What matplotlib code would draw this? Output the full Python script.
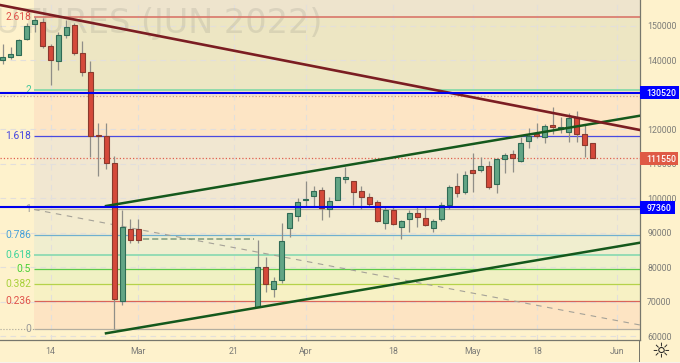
import matplotlib
matplotlib.use("Agg")
import matplotlib.pyplot as plt
from matplotlib.patches import Rectangle

plt.rcParams["font.family"] = ["Roboto", "DejaVu Sans"]

# candles, x is the trading day number
days = [0, 1, 2, 3, 4, 5, 6, 7, 8, 9, 10, 11, 12, 13, 14, 15, 16, 17,
        32, 33, 34, 35, 36, 37, 38, 39, 40, 41, 42, 43, 44, 45, 46, 47, 48, 49, 50, 51, 52, 53,
        54, 55, 56, 57, 58, 59, 60, 61, 62, 63, 64, 65, 66, 67, 68, 69, 70, 71, 72, 73, 74]
opens = [139963, 140833, 141587, 146053, 150403, 151157, 144023, 139760, 147387, 150113, 142000, 136483, 118387, 117923, 110093, 70247, 90953, 90953,
         68507, 79933, 73727, 76250, 91243, 94810, 99363, 100697, 102437, 96753, 99537, 105540, 104960, 101973, 100320, 98957, 92693, 96550, 91707, 93853, 95767, 94143,
         91417, 93853, 98087, 103423, 101683, 108063, 108150, 109310, 104177, 111427, 112790, 110673, 116647, 118503, 117633, 121200, 120000, 119257, 123433, 118590, 115893]
highs = [144690, 143820, 146053, 150693, 152607, 152230, 144603, 148083, 151650, 150693, 145560, 139847, 121693, 121867, 112210, 96550, 93940, 93940,
         87850, 82833, 77207, 92693, 95680, 99943, 105047, 103510, 103307, 100407, 106207, 109107, 105047, 103510, 101567, 99450, 97507, 97797, 93650, 96550, 97333, 97333,
         93853, 98783, 103800, 107367, 107860, 113167, 111833, 110847, 111630, 113080, 113950, 117807, 120330, 121693, 121490, 126333, 123660, 124593, 125347, 121200, 115893]
lows = [138890, 140427, 141500, 145850, 148257, 143443, 132800, 137150, 146517, 141500, 135410, 111833, 106497, 108527, 62040, 69087, 86893, 86893,
        68333, 72857, 71407, 75293, 88807, 93360, 97710, 97507, 93563, 94433, 99450, 104293, 98000, 96753, 97710, 93070, 91040, 92200, 88053, 90257, 91707, 91910,
        90083, 93447, 96753, 100407, 101190, 101857, 107657, 102553, 101567, 107193, 107657, 110470, 114443, 117343, 116067, 118590, 118880, 116183, 116357, 111833, 111550]
closes = [141007, 141790, 145850, 149997, 151650, 144197, 140050, 147213, 149533, 142167, 136570, 118010, 118010, 110267, 70653, 91620, 87850, 87850,
          79933, 75003, 75873, 87473, 95593, 98783, 99653, 101973, 97043, 99160, 106120, 106120, 101683, 100233, 98377, 93360, 96550, 92490, 93273, 95593, 94520, 92200,
          93447, 98000, 103307, 101393, 106613, 107367, 109397, 103307, 111340, 112587, 111543, 116067, 117923, 118097, 120910, 120707, 120500, 123230, 118590, 115313, 111550]

# fib levels
fib_names = ["2.618", "2", "1.618", "1", "0.786", "0.618", "0.5", "0.382", "0.236", "0"]
fib_prices = [152521, 131362, 118028, 96724, 89332, 83535, 79478, 75129, 70201, 62085]
fib_colors = ["#d9766a", "#7fd8a8", "#4a4ae0", "#b3aea0", "#6fb0cf", "#86d8b0", "#5cc94a", "#b5d24a", "#d9645a", "#b3aea0"]
fib_text_colors = ["#e0524a", "#45c79a", "#4545e0", "#9a9a9a", "#45a0d8", "#40d49c", "#48d035", "#a8d03a", "#e0524a", "#9a9a9a"]
zone_colors = ["#eee4cd", "#ede6c3", "#fde5c5", "#f1e7d1", "#f3ebcf", "#f0eecf", "#eff0cc", "#f0f1c3", "#f7f1c4", "#fde4c3"]

y_ticks = [60000, 70000, 80000, 90000, 100000, 110000, 120000, 130000, 140000, 150000]
date_pos = [6, 17, 29, 38, 49, 59, 67, 77.1]
date_names = ["14", "Mar", "21", "Apr", "18", "May", "18", "Jun"]

# drawn lines: x days, y prices
maroon_x = [-0.34, 79.96]
maroon_y = [156000, 119767]
up_x = [12.96, 79.96]
up_y = [97737, 123912]
low_x = [12.96, 79.96]
low_y = [60840, 87100]
diag_x = [3.93, 79.96]
diag_y = [96724, 63245]
flat_x = [17.6, 31.5]
flat_y = [88030, 88030]

blue_lines = [130520, 97360]
last_price = 111550
old_price = 129700

BG = "#fef2cc"
W, H = 680, 363
px = 0.72  # pt per pixel at dpi 100
AX_W = 639.7

fig = plt.figure(figsize=(W / 100, H / 100), dpi=100, facecolor=BG)
ax = fig.add_axes([0, (H - 340) / H, AX_W / W, 340 / H], facecolor=BG)
ax.set_xlim(-0.339, 79.92)
ax.set_ylim(58897, 157449)
price_per_px = (157449 - 58897) / 340

# zones behind everything
zone_top = 157449
for p, c in zip(fib_prices, zone_colors):
    ax.fill_between([3.93, 79.92], p, zone_top, color=c, lw=0, zorder=0)
    zone_top = p

ax.text(322 / AX_W, 1 - 24 / 340, "FUTURES (JUN 2022)", transform=ax.transAxes, ha="right", va="center",
        fontsize=33.5 * px, color="#8a8a80", alpha=0.2, zorder=1, family="DejaVu Sans")

ax.set_yticks(y_ticks)
ax.set_xticks(date_pos)
ax.set_xticklabels(date_names)
ax.grid(True, color="#e2dfdc", lw=0.8, ls=(0, (5, 4)), zorder=1)
ax.set_axisbelow(True)
ax.yaxis.tick_right()
ax.tick_params(axis="y", length=0, pad=7.5 * px, labelsize=8.8 * px, labelcolor="#7c7c78")
ax.tick_params(axis="x", length=0, pad=7.5 * px, labelsize=8.8 * px, labelcolor="#7c7c78")
for s in ["top", "left"]:
    ax.spines[s].set_visible(False)
ax.spines["bottom"].set_color("#77776c")
ax.spines["right"].set_color("#77776c")
ax.spines["bottom"].set_linewidth(0.9)
ax.spines["right"].set_linewidth(0.9)

# fib lines and labels
for name, p, c, tc in zip(fib_names, fib_prices, fib_colors, fib_text_colors):
    lw = 1.2 if name in ["2.618", "2", "0.618"] else 0.9
    ax.plot([3.93, 79.92], [p, p], color=c, lw=lw, zorder=2, solid_capstyle="butt")
    ax.text(31 / AX_W, p, name, transform=ax.get_yaxis_transform(), ha="right", va="center",
            fontsize=10.2 * px, color=tc, zorder=2)

ax.plot([-0.339, 3.93], [fib_prices[-1], fib_prices[-1]], color="#a8a598", lw=0.8, ls=":", zorder=2)
ax.plot(diag_x, diag_y, color="#a5a298", lw=0.8, ls=(0, (5, 5)), zorder=2)
ax.plot(flat_x, flat_y, color="#7f9c7f", lw=1.1, ls=(0, (4, 2)), zorder=2)
ax.axhline(old_price, color="#c9a58c", lw=0.9, ls=":", zorder=2)
ax.axhline(last_price, color="#e0604e", lw=0.9, ls=":", zorder=2)

# candles
for d, o, h, l, c in zip(days, opens, highs, lows, closes):
    ax.plot([d, d], [l, h], color="#8f8e88", lw=0.9, zorder=3, solid_capstyle="butt")
    up = c >= o
    ax.bar(d, abs(c - o), bottom=min(o, c), width=0.62,
           color="#62a585" if up else "#d5493a",
           edgecolor="#2f6b55" if up else "#8a3a2e", linewidth=0.8, zorder=4)

# drawing tools on top
ax.plot(up_x, up_y, color="#14581c", lw=1.8, zorder=5)
ax.plot(low_x, low_y, color="#14581c", lw=1.8, zorder=5)
ax.plot(maroon_x, maroon_y, color="#7b1d22", lw=1.9, zorder=5)
for p in blue_lines:
    ax.axhline(p, color="#0000ee", lw=1.5, zorder=6)

# price boxes, they sit over the tick labels
for p, c, w in [(blue_lines[0], "#0000ff", 39), (blue_lines[1], "#0000ff", 35), (last_price, "#df5a45", 38)]:
    ax.add_patch(Rectangle((1, p - 6.5 * price_per_px), w / AX_W, 13 * price_per_px, transform=ax.get_yaxis_transform(),
                           fc=c, ec="none", clip_on=False, zorder=7))
    ax.text((AX_W + 7) / AX_W, p, str(p), transform=ax.get_yaxis_transform(), ha="left", va="center_baseline",
            fontsize=8.8 * px, color="white", fontweight="medium", zorder=8)

# right axis line goes on to the bottom, sun icon and edge strip
fig.add_artist(Rectangle((639.2 / W, 1.5 / H), 0.9 / W, 22 / H, transform=fig.transFigure, color="#77776c", lw=0))
fig.add_artist(Rectangle((0, 0), 1, 1.5 / H, transform=fig.transFigure, color="#f6f3ec", lw=0))
fig.text(661 / W, 1 - 351 / H, "\u263c", ha="center", va="center", fontsize=21 * px, color="#222222", family="DejaVu Sans")

fig.savefig("out.png", dpi=100, facecolor=BG)
